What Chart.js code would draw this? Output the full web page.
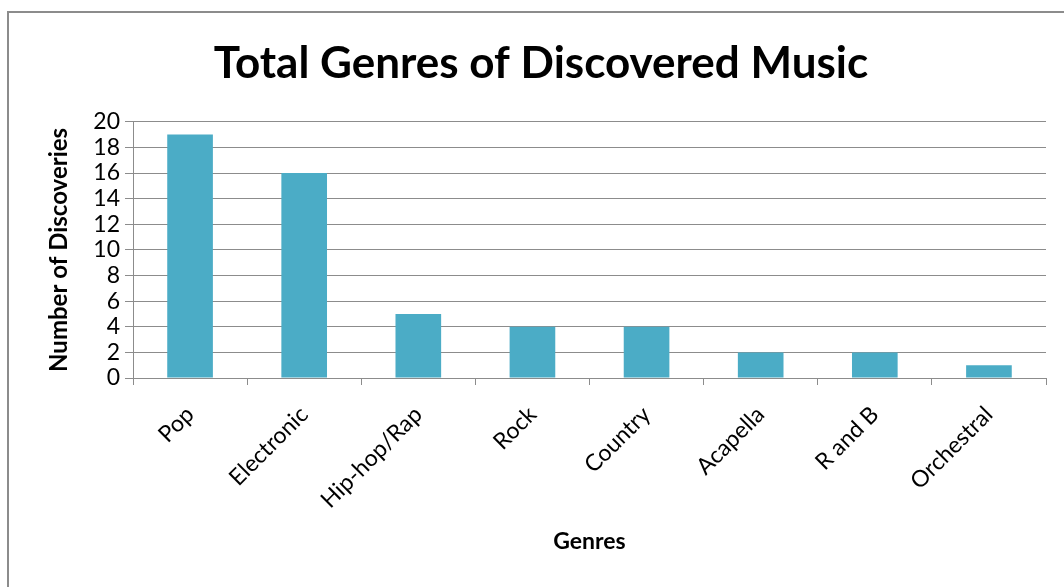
<!DOCTYPE html>
<html>
<head>
<meta charset="utf-8">
<script src="https://cdn.jsdelivr.net/npm/chart.js@4"></script>
<style>
    body { margin: 0; background: #fff; overflow: hidden; }
    #frame {
        position: absolute; left: 7px; top: 11px;
        width: 1200px; height: 700px;
        border-left: 2px solid #8c8c8c; border-top: 2px solid #8c8c8c;
    }
    #wrap { position: absolute; left: 0; top: 0; width: 1064px; height: 587px; }
</style>
</head>
<body>
<div id="frame"></div>
<div id="wrap"><canvas id="genres-chart" width="1064" height="587"></canvas></div>
<script>
// Datos del gráfico
const genres = ["Pop", "Electronic", "Hip-hop/Rap", "Rock", "Country", "Acapella", "R and B", "Orchestral"];
const discoveries = [19, 16, 5, 4, 4, 2, 2, 1];
const yMin = 0;
const yMax = 20;
const yStep = 2;

const gridColor = "#8c8c8c";

Chart.defaults.font.family = "Lato, 'Open Sans', sans-serif";
Chart.defaults.color = "#000";

const ctx = document.getElementById("genres-chart").getContext("2d");
new Chart(ctx, {
    type: "bar",
    data: {
        labels: genres,
        datasets: [{
            label: "Number of Discoveries",
            data: discoveries,
            backgroundColor: "#4bacc6",
            categoryPercentage: 1,
            barPercentage: 0.4
        }]
    },
    options: {
        responsive: false,
        animation: false,
        layout: { padding: { left: 36, right: 18, top: 0, bottom: 0 } },
        plugins: {
            legend: { display: false },
            tooltip: { enabled: false },
            title: {
                display: true,
                text: "Total Genres of Discovered Music",
                font: { size: 44, weight: "bold" },
                color: "#000",
                padding: { top: 37, bottom: 32 }
            }
        },
        scales: {
            x: {
                grid: {
                    display: true,
                    drawOnChartArea: false,
                    drawTicks: true,
                    tickLength: 7,
                    color: gridColor,
                    offset: true
                },
                border: { display: true, color: gridColor, width: 1 },
                ticks: {
                    font: { size: 23 },
                    maxRotation: 45,
                    minRotation: 45,
                    autoSkip: false,
                    padding: 16
                },
                title: {
                    display: true,
                    text: "Genres",
                    font: { size: 23, weight: "bold" },
                    padding: { top: 4, bottom: 32 }
                },
                afterFit: scale => { scale.height = 209; }
            },
            y: {
                min: yMin,
                max: yMax,
                ticks: {
                    stepSize: yStep,
                    autoSkip: false,
                    font: { size: 23 },
                    padding: 5
                },
                grid: {
                    color: gridColor,
                    tickLength: 8
                },
                border: { display: true, color: gridColor, width: 1 },
                title: {
                    display: true,
                    text: "Number of Discoveries",
                    font: { size: 24, weight: "bold" },
                    padding: { top: 9, bottom: 4 }
                },
                afterFit: scale => { scale.width = 97; }
            }
        }
    }
});
</script>
</body>
</html>
